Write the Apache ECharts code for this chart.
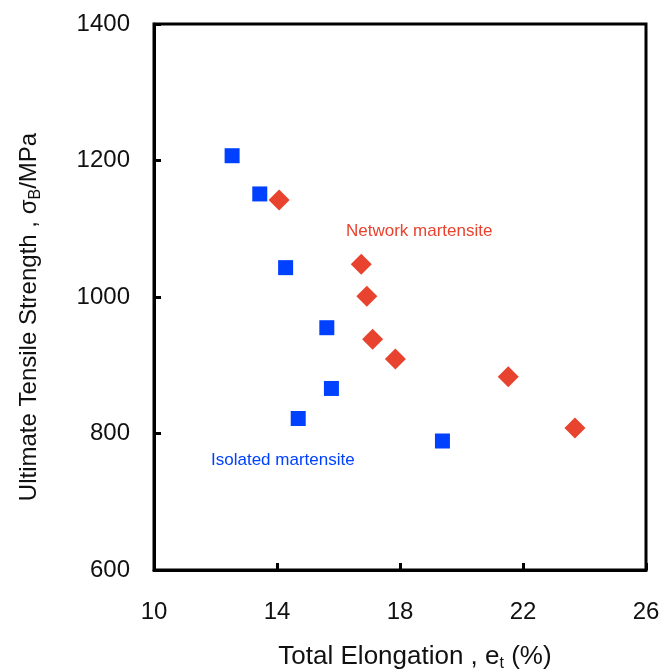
<!DOCTYPE html>
<html>
<head>
<meta charset="utf-8">
<script src="https://cdn.jsdelivr.net/npm/echarts@6/dist/echarts.min.js"></script>
<style>
    html, body { margin: 0; padding: 0; background: #fff; }
    #main { width: 667px; height: 672px; }
</style>
</head>
<body>
<div id="main"></div>
<script>
    // Isolated martensite (blue squares): elongation %, strength MPa
    var isolatedX = [12.54, 13.44, 14.28, 15.62, 15.77, 14.69, 19.38];
    var isolatedY = [1207, 1151, 1043, 955, 866, 822, 789];
    // Network martensite (red diamonds)
    var networkX = [14.07, 16.74, 16.92, 17.11, 17.85, 21.52, 23.69];
    var networkY = [1142, 1048, 1001, 938, 909, 883, 808];

    var xTicks = [10, 14, 18, 22, 26];
    var yTicks = [600, 800, 1000, 1200, 1400];

    function pairs(xs, ys) {
        return xs.map(function (x, i) { return [x, ys[i]]; });
    }

    var font = '"Liberation Sans", Arial, sans-serif';
    var chart = echarts.init(document.getElementById('main'));
    var option = {
        animation: false,
        backgroundColor: '#fff',
        grid: {
            left: 154, right: 21, top: 24, bottom: 102,
            outerBoundsMode: 'none',
            show: true, borderColor: '#000', borderWidth: 3
        },
        xAxis: {
            type: 'value',
            min: xTicks[0], max: xTicks[xTicks.length - 1], interval: 4,
            name: 'Total Elongation , e{sub|t} (%)',
            nameLocation: 'middle',
            nameGap: 72,
            nameTextStyle: {
                fontFamily: font, fontSize: 26, color: '#111', lineHeight: 30,
                padding: [0, 0, 0, 30],
                rich: {sub: {fontFamily: font, fontSize: 16, color: '#111', padding: [13, 0, 0, 0]}}
            },
            axisLine: {lineStyle: {color: '#000', width: 3}},
            axisTick: {inside: true, length: 7, lineStyle: {color: '#000', width: 3}},
            axisLabel: {fontFamily: font, fontSize: 24, color: '#111', margin: 30,
                formatter: function (v) { return String(v); }},
            splitLine: {show: false}
        },
        yAxis: {
            type: 'value',
            min: yTicks[0], max: yTicks[yTicks.length - 1], interval: 200,
            name: 'Ultimate Tensile Strength , σ{sub|B}/MPa',
            nameLocation: 'middle',
            nameGap: 110,
            nameTextStyle: {
                fontFamily: font, fontSize: 24, color: '#111', lineHeight: 30,
                padding: [0, 40, 0, 0],
                rich: {sub: {fontFamily: font, fontSize: 16, color: '#111', padding: [13, 0, 0, 0]}}
            },
            axisLine: {lineStyle: {color: '#000', width: 3}},
            axisTick: {inside: true, length: 7, lineStyle: {color: '#000', width: 3}},
            axisLabel: {fontFamily: font, fontSize: 24, color: '#111', margin: 24,
                formatter: function (v) { return String(v); }},
            splitLine: {show: false}
        },
        series: [
            {
                name: 'Isolated martensite',
                type: 'scatter',
                symbol: 'rect',
                symbolSize: 15,
                itemStyle: {color: '#0041ff', opacity: 1},
                data: pairs(isolatedX, isolatedY)
            },
            {
                name: 'Network martensite',
                type: 'scatter',
                symbol: 'diamond',
                symbolSize: [21, 21],
                itemStyle: {color: '#e8432e', opacity: 1},
                data: pairs(networkX, networkY)
            }
        ],
        graphic: [
            {
                type: 'text', left: 346, top: 223,
                style: {text: 'Network martensite', fill: '#e8432e', font: '17px ' + font}
            },
            {
                type: 'text', left: 211, top: 452,
                style: {text: 'Isolated martensite', fill: '#0041ff', font: '17px ' + font}
            }
        ]
    };
    chart.setOption(option);
</script>
</body>
</html>
